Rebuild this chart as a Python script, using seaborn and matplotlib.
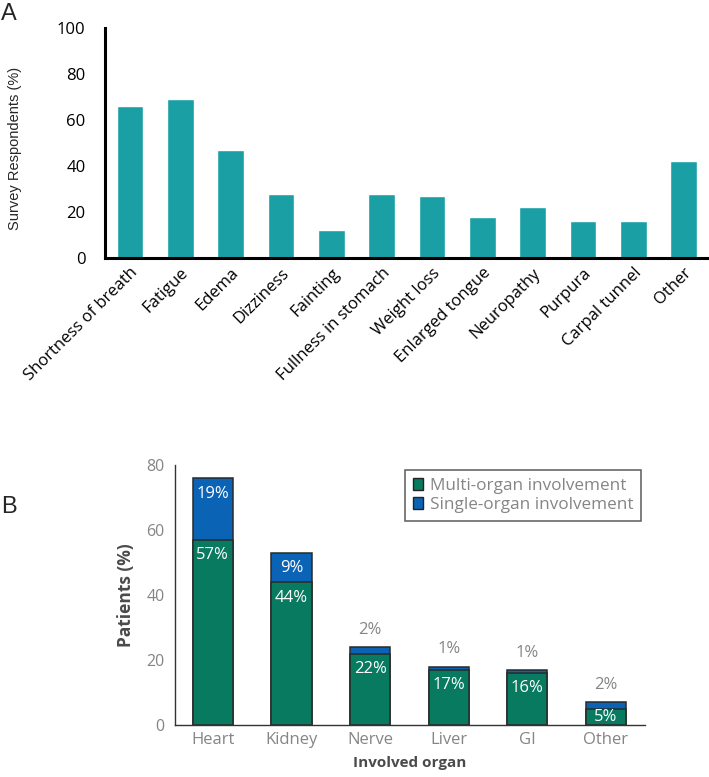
import numpy as np
import pandas as pd
import matplotlib
matplotlib.use("Agg")
import matplotlib.pyplot as plt
import seaborn as sns
from matplotlib.patches import Patch

# =========================
# DATA
# =========================
symptoms = ["Shortness of breath", "Fatigue", "Edema", "Dizziness", "Fainting",
            "Fullness in stomach", "Weight loss", "Enlarged tongue", "Neuropathy",
            "Purpura", "Carpal tunnel", "Other"]
respondents = [66, 69, 47, 28, 12, 28, 27, 18, 22, 16, 16, 42]

organs = ["Heart", "Kidney", "Nerve", "Liver", "GI", "Other"]
multi_organ = [57, 44, 22, 17, 16, 5]
single_organ = [19, 9, 2, 1, 1, 2]

sns.set_style("white")
plt.rcParams["font.family"] = ["Open Sans", "DejaVu Sans"]

fig = plt.figure(figsize=(7.09, 7.77), dpi=100)

# =========================
# PANEL A
# =========================
axA = fig.add_axes([0.148, 0.668, 0.852, 0.296])
dfA = pd.DataFrame({"symptom": symptoms, "pct": respondents})
sns.barplot(data=dfA, x="symptom", y="pct", color="#1a9fa5", saturation=1,
            width=0.53, ax=axA)
axA.set_xlim(-0.5, 11.5)
axA.set_ylim(0, 100)
axA.set_yticks(range(0, 101, 20))
axA.set_xlabel("")
axA.set_ylabel("Survey Respondents (%)", fontsize=10.5, family="Liberation Sans")
axA.yaxis.set_label_coords(-0.137, 0.476)
axA.tick_params(axis="y", direction="out", length=5, width=1.5, labelsize=12,
                pad=9, colors="black")
axA.tick_params(axis="x", length=0, labelsize=12, pad=5, colors="black")
plt.setp(axA.get_xticklabels(), rotation=45, ha="right", rotation_mode="anchor")
for side in ["top", "right"]:
    axA.spines[side].set_visible(False)
for side in ["left", "bottom"]:
    axA.spines[side].set_linewidth(2.2)
    axA.spines[side].set_color("black")
fig.text(0.002, 0.982, "A", fontsize=17, family="Liberation Sans", va="center")

# =========================
# PANEL B
# =========================
green = "#077a60"
blue = "#0b63b6"
grey = "#858585"
dark = "#4a4a4a"
axB = fig.add_axes([0.247, 0.067, 0.663, 0.334])
total = [m + s for m, s in zip(multi_organ, single_organ)]
dfB = pd.DataFrame({"organ": organs, "multi": multi_organ, "total": total})
sns.barplot(data=dfB, x="organ", y="total", color=blue, saturation=1,
            width=0.51, edgecolor="#2a2a2a", linewidth=1.1, ax=axB)
sns.barplot(data=dfB, x="organ", y="multi", color=green, saturation=1,
            width=0.51, edgecolor="#2a2a2a", linewidth=1.1, ax=axB)

for i, (m, s) in enumerate(zip(multi_organ, single_organ)):
    if s >= 5:
        axB.text(i, m + s - 2.3, f"{s}%", ha="center", va="top",
                 color="white", fontsize=12)
    else:
        axB.text(i, m + s + 2.8, f"{s}%", ha="center", va="bottom",
                 color=grey, fontsize=12)
    if m >= 8:
        axB.text(i, m - 2.3, f"{m}%", ha="center", va="top",
                 color="white", fontsize=12)
    else:
        axB.text(i, m / 2, f"{m}%", ha="center", va="center",
                 color="white", fontsize=12)

axB.set_xlim(-0.48, 5.5)
axB.set_ylim(0, 80)
axB.set_yticks(range(0, 81, 20))
axB.set_xlabel("Involved organ", fontsize=11, fontweight="bold", color=dark,
               labelpad=6)
axB.set_ylabel("Patients (%)", fontsize=12.5, fontweight="bold", color=dark,
               labelpad=8)
axB.tick_params(axis="y", direction="out", length=4.5, width=0.8, labelsize=11.5,
                colors=grey, pad=3)
axB.tick_params(axis="x", length=0, labelsize=12, colors=grey, pad=5)
for side in ["top", "right"]:
    axB.spines[side].set_visible(False)
for side in ["left", "bottom"]:
    axB.spines[side].set_linewidth(1)
    axB.spines[side].set_color("#333333")

handles = [Patch(facecolor=green, edgecolor="#222222", label="Multi-organ involvement"),
           Patch(facecolor=blue, edgecolor="#222222", label="Single-organ involvement")]
leg = axB.legend(handles=handles, loc="upper right", bbox_to_anchor=(0.904, 0.395),
                 bbox_transform=fig.transFigure, borderaxespad=0,
                 fancybox=False, frameon=True, edgecolor="#333333", fontsize=12.3,
                 handlelength=0.6, handleheight=0.7, handletextpad=0.4,
                 borderpad=0.45, labelspacing=0.2)
for t in leg.get_texts():
    t.set_color(grey)
leg.get_frame().set_linewidth(1.1)
fig.text(0.002, 0.347, "B", fontsize=17, family="Liberation Sans", va="center")

fig.savefig("out.png", dpi=100)
